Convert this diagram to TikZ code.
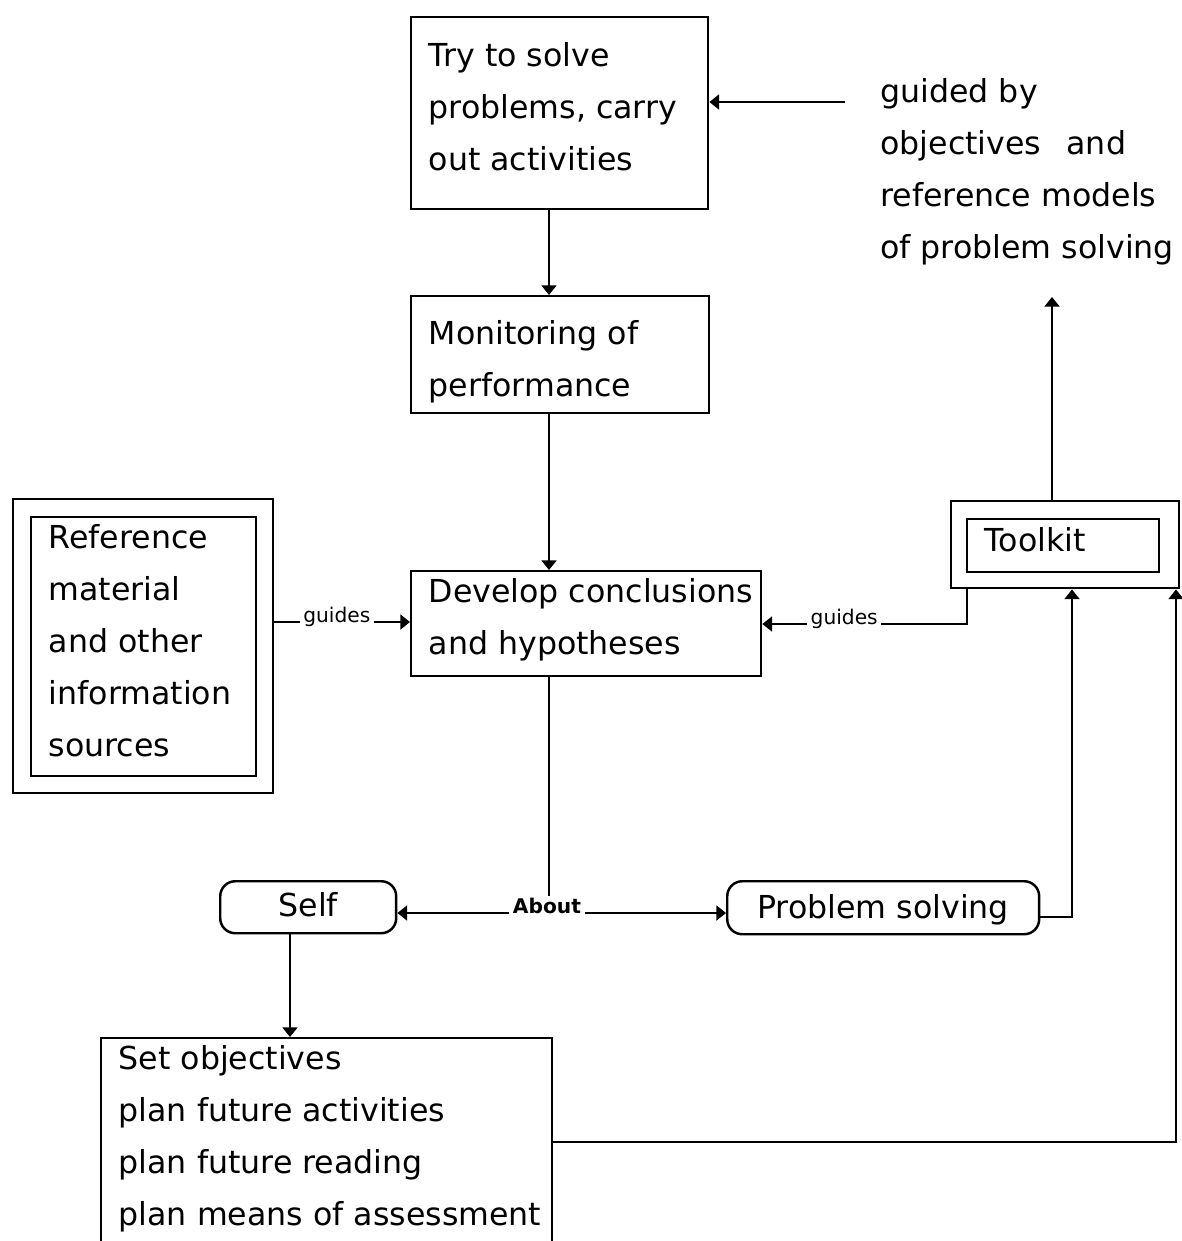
\documentclass[tikz,border=0pt]{standalone}
\usepackage{fontspec}
\setmainfont{DejaVu Sans}
\usetikzlibrary{arrows.meta}
\newcommand\bt[2]{\makebox[#1][l]{\begin{tabular}[t]{@{}l@{}}#2\end{tabular}}}
\begin{document}
\begin{tikzpicture}[x=0.02cm,y=-0.02cm,
  every node/.style={font=\fontsize{18}{29.6}\selectfont},
  box/.style={draw, line width=1.4pt, inner xsep=0.35cm, inner ysep=0pt, anchor=north west},
  frame/.style={draw, line width=1.4pt, inner sep=0pt, anchor=north west},
  rbox/.style={draw, line width=1.4pt, rounded corners=0.3cm, inner sep=0pt, anchor=north west},
  arr/.style={line width=1.2pt, -{Triangle[length=5.5pt,width=8.5pt]}},
  conn/.style={line width=1.2pt},
  lab/.style={fill=white, inner xsep=2pt, inner ysep=1pt, anchor=base, font=\fontsize{11.5}{13}\selectfont}]
\useasboundingbox (0,0) rectangle (1181,1241);

% boxes
\node[box, text height=0.98cm, text depth=2.86cm] (try) at (410,16)
  {\bt{5.24cm}{Try to solve\\problems, carry\\out activities}};
\node[box, text height=0.96cm, text depth=1.38cm] (mon) at (410,295)
  {\bt{5.26cm}{Monitoring of\\performance}};
\node[box, text height=0.62cm, text depth=1.48cm] (dev) at (410,570)
  {\bt{6.3cm}{Develop conclusions\\and hypotheses}};
\node[frame, minimum width=5.2cm, minimum height=5.88cm] (refout) at (12,498) {};
\node[box, text height=0.62cm, text depth=4.56cm] (refin) at (30,516)
  {\bt{3.8cm}{Reference\\material\\and other\\information\\sources}};
\node[frame, minimum width=4.56cm, minimum height=1.74cm] (tkout) at (950,500) {};
\node[box, text height=0.64cm, text depth=0.42cm] (tkin) at (966,518)
  {\bt{3.14cm}{Toolkit}};
\node[rbox, minimum width=3.52cm, text height=0.7cm, text depth=0.34cm] (self) at (219,880) {Self};
\node[rbox, minimum width=6.24cm, text height=0.74cm, text depth=0.32cm] (ps) at (726,880) {Problem solving};
\node[box, text height=0.62cm, text depth=3.64cm] (bot) at (100,1037)
  {\bt{8.32cm}{Set objectives\\plan future activities\\plan future reading\\plan means of assessment}};
\node[anchor=base west, inner sep=0pt] (guided) at (880,102)
  {\bt{6cm}{guided by\\objectives\hspace{0.8em}and\\reference models\\of problem solving}};

% helper coordinates
\coordinate (cx) at (549,0);
\coordinate (selfx) at (290,0);
\coordinate (gstart) at (845,102);
\coordinate (tkup) at (1052,297);
\coordinate (tkg) at (967,624);
\coordinate (psx) at (1072,917);
\coordinate (botx) at (1176,1142);
\coordinate (refy) at (0,622);

% connectors
\draw[arr] (gstart) -- (try.east |- gstart);
\draw[arr] (try.south -| cx) -- (mon.north -| cx);
\draw[arr] (mon.south -| cx) -- (dev.north -| cx);
\draw[arr] (refout.east |- refy) -- node[lab, pos=0.46] {guides} (dev.west |- refy);
\draw[arr] (tkout.south -| tkg) |- node[lab, pos=0.8] {guides} (dev.east |- tkg);
\node[lab, font=\fontsize{11.5}{13}\selectfont\bfseries] (about) at (547,913) {About};
\draw[conn] (dev.south -| cx) -- (about.north -| cx);
\draw[arr] (about.base west) -- (self.east |- about.base);
\draw[arr] (about.base east) -- (ps.west |- about.base);
\draw[arr] (tkout.north -| tkup) -- (tkup);
\draw[arr] (ps.east |- psx) -| (tkout.south -| psx);
\draw[arr] (self.south -| selfx) -- (bot.north -| selfx);
\draw[arr] (bot.east |- botx) -| (tkout.south -| botx);
\end{tikzpicture}
\end{document}
